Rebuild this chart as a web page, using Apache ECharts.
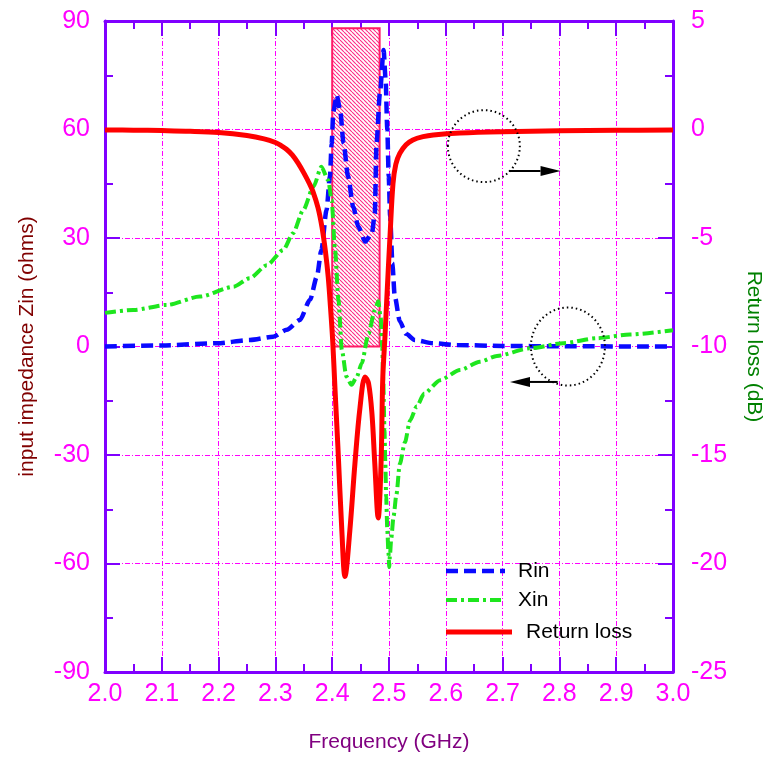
<!DOCTYPE html>
<html><head><meta charset="utf-8">
<script src="https://cdn.jsdelivr.net/npm/echarts@6/dist/echarts.min.js"></script>
<style>html,body{margin:0;padding:0;background:#fff;overflow:hidden}#c{width:769px;height:761px}</style>
</head><body><div id="c"></div>
<script>
// ---- data ----
const xTicks = [2.0, 2.1, 2.2, 2.3, 2.4, 2.5, 2.6, 2.7, 2.8, 2.9, 3.0];
const zinTicks = [-90, -60, -30, 0, 30, 60, 90];
const rlTicks = [-25, -20, -15, -10, -5, 0, 5];

const rinFreq = [2.00, 2.10, 2.197, 2.255, 2.296, 2.32, 2.343, 2.361, 2.373, 2.381, 2.39, 2.396, 2.399, 2.402, 2.408, 2.414, 2.42, 2.428, 2.437, 2.446, 2.458, 2.47, 2.475, 2.478, 2.484, 2.4905, 2.494, 2.497, 2.4995, 2.502, 2.506, 2.51, 2.519, 2.53, 2.545, 2.578, 2.62, 2.70, 2.80, 3.00];
const rinVals = [0, 0.3, 0.9, 1.8, 2.7, 4.6, 7.3, 12.9, 19.3, 26.7, 37.7, 47, 56, 65, 69.5, 65.4, 56.2, 47, 38.6, 33.1, 29, 31.3, 36.8, 56.2, 70, 82, 74, 60, 47, 36, 23, 14, 7, 3.5, 1.8, 0.9, 0.4, 0.15, 0.05, 0];

const xinFreq = [2.00, 2.05, 2.109, 2.167, 2.226, 2.255, 2.285, 2.314, 2.331, 2.349, 2.367, 2.381, 2.393, 2.399, 2.405, 2.411, 2.417, 2.425, 2.434, 2.443, 2.452, 2.464, 2.475, 2.481, 2.4855, 2.488, 2.49, 2.492, 2.4935, 2.495, 2.497, 2.499, 2.5005, 2.5015, 2.504, 2.508, 2.513, 2.519, 2.528, 2.537, 2.549, 2.562, 2.59, 2.625, 2.66, 2.69, 2.748, 2.807, 2.866, 2.924, 3.00];
const xinVals = [9.3, 10.1, 11.5, 13.8, 16.5, 18.9, 22.5, 26.7, 31.3, 37.7, 44.2, 49.7, 46, 40.5, 26.7, 12.9, -1, -8.3, -10.6, -8.5, -4.6, 3.6, 10, 12.5, 8, 0, -10, -23, -32, -41.6, -50.7, -57, -61, -58, -53, -47, -41, -32.5, -26.5, -20.5, -16.5, -13, -9.3, -6.5, -4.2, -2.6, -0.5, 0.9, 2.3, 3.3, 4.5];

const rlFreq = [2.00, 2.05, 2.10, 2.15, 2.20, 2.25, 2.28, 2.30, 2.31, 2.32, 2.33, 2.34, 2.35, 2.36, 2.366, 2.375, 2.382, 2.388, 2.393, 2.397, 2.401, 2.405, 2.41, 2.417, 2.4225, 2.431, 2.44, 2.449, 2.458, 2.464, 2.47, 2.475, 2.481, 2.486, 2.489, 2.493, 2.496, 2.502, 2.507, 2.512, 2.519, 2.53, 2.542, 2.56, 2.578, 2.625, 2.70, 2.80, 2.90, 3.00];
const rlVals = [-0.02, -0.03, -0.05, -0.08, -0.14, -0.28, -0.43, -0.6, -0.74, -0.92, -1.18, -1.55, -2.0, -2.5, -2.85, -3.6, -4.5, -5.6, -6.8, -8.2, -9.8, -12.0, -14.6, -18.5, -20.6, -18.5, -15.4, -12.8, -11.4, -11.7, -13.1, -15.4, -17.9, -15.4, -11.5, -9.5, -7.86, -4.8, -2.5, -1.6, -1.1, -0.7, -0.48, -0.33, -0.25, -0.16, -0.1, -0.06, -0.04, -0.02];

// ISM band box: [fStart, fEnd, zinBottom, zinTop]
const band = [2.4, 2.4835, 0, 88];
const legendNames = ['Rin', 'Xin', 'Return loss'];

// ---- styles ----
const AXIS = '#8000ff', MAG = '#ff00ff';
const tickFont = "'Liberation Sans Narrow', 'Liberation Sans', Arial, sans-serif";
const txtFont = "'Liberation Sans', Arial, sans-serif";
const gridDash = [5, 2, 1, 2];
const STY = [
  { color: '#0a0aff', width: 4.5, type: [12, 6] },
  { color: '#1ee61e', width: 4, type: [11, 4, 3, 4] },
  { color: '#ff0000', width: 5, type: 'solid' }
];

function zip(a, b) { return a.map((v, i) => [v, b[i]]); }

function hatchPattern() {
  const s = 4, c = document.createElement('canvas');
  c.width = c.height = s;
  const g = c.getContext('2d');
  g.fillStyle = '#ffffff'; g.fillRect(0, 0, s, s);
  g.strokeStyle = '#ff2a85'; g.lineWidth = 1.1;
  g.beginPath();
  for (const k of [-s, 0, s]) { g.moveTo(k, 0); g.lineTo(k + s, s); }
  g.stroke();
  return { image: c, repeat: 'repeat' };
}

const chart = echarts.init(document.getElementById('c'), null, { renderer: 'canvas' });

const tickCommon = (len) => ({ show: true, inside: true, length: len, lineStyle: { color: AXIS, width: 2 } });
const minorCommon = { show: true, splitNumber: 2, length: 8, lineStyle: { color: AXIS, width: 2 } };

chart.setOption({
  animation: false,
  backgroundColor: '#fff',
  grid: { left: 105, right: 96, top: 21, bottom: 89, containLabel: false, outerBoundsMode: 'none' },
  xAxis: [{
    type: 'value', position: 'bottom',
    min: xTicks[0], max: xTicks[xTicks.length - 1], interval: +(xTicks[1] - xTicks[0]).toFixed(3),
    name: 'Frequency (GHz)', nameLocation: 'middle', nameGap: 60,
    nameTextStyle: { color: '#800080', fontSize: 21, fontFamily: txtFont },
    axisLine: { show: true, onZero: false, lineStyle: { color: AXIS, width: 3 } },
    axisTick: tickCommon(15), minorTick: minorCommon,
    axisLabel: { color: MAG, fontSize: 25, fontFamily: tickFont, margin: 10,
      formatter: v => v.toFixed(1) },
    splitLine: { show: true, lineStyle: { color: MAG, width: 1, type: gridDash } }
  }, {
    type: 'value', position: 'top',
    min: xTicks[0], max: xTicks[xTicks.length - 1], interval: +(xTicks[1] - xTicks[0]).toFixed(3),
    axisLine: { show: true, onZero: false, lineStyle: { color: AXIS, width: 3 } },
    axisTick: tickCommon(15), minorTick: minorCommon,
    axisLabel: { show: false }, splitLine: { show: false }
  }],
  yAxis: [{
    type: 'value', position: 'left',
    min: zinTicks[0], max: zinTicks[zinTicks.length - 1], interval: zinTicks[1] - zinTicks[0],
    name: 'input impedance Zin (ohms)', nameLocation: 'middle', nameGap: 67, nameRotate: 90,
    nameTextStyle: { color: '#800000', fontSize: 21, fontFamily: txtFont },
    axisLine: { show: true, onZero: false, lineStyle: { color: AXIS, width: 3 } },
    axisTick: tickCommon(15), minorTick: minorCommon,
    axisLabel: { color: MAG, fontSize: 25, fontFamily: tickFont, margin: 15 },
    splitLine: { show: true, lineStyle: { color: MAG, width: 1, type: gridDash } }
  }, {
    type: 'value', position: 'right',
    min: rlTicks[0], max: rlTicks[rlTicks.length - 1], interval: rlTicks[1] - rlTicks[0],
    name: 'Return loss (dB)', nameLocation: 'middle', nameGap: 70, nameRotate: -90,
    nameTextStyle: { color: '#008000', fontSize: 21, fontFamily: txtFont },
    axisLine: { show: true, onZero: false, lineStyle: { color: AXIS, width: 3 } },
    axisTick: tickCommon(15), minorTick: minorCommon,
    axisLabel: { color: MAG, fontSize: 25, fontFamily: tickFont, margin: 18 },
    splitLine: { show: false }
  }],
  series: [{
    name: legendNames[0], type: 'line', xAxisIndex: 0, yAxisIndex: 0,
    data: zip(rinFreq, rinVals), showSymbol: false, symbol: 'none',
    smooth: 0.25, smoothMonotone: 'x',
    lineStyle: STY[0], itemStyle: { color: STY[0].color }, z: 3
  }, {
    name: legendNames[1], type: 'line', xAxisIndex: 0, yAxisIndex: 0,
    data: zip(xinFreq, xinVals), showSymbol: false, symbol: 'none',
    smooth: 0.25, smoothMonotone: 'x',
    lineStyle: STY[1], itemStyle: { color: STY[1].color }, z: 3,
    markArea: {
      silent: true,
      itemStyle: { color: hatchPattern(), borderColor: '#ff1a66', borderWidth: 2 },
      data: [[{ xAxis: band[0], yAxis: band[2] }, { xAxis: band[1], yAxis: band[3] }]]
    }
  }, {
    name: legendNames[2], type: 'line', xAxisIndex: 0, yAxisIndex: 1,
    data: zip(rlFreq, rlVals), showSymbol: false, symbol: 'none',
    smooth: 0.35,
    lineStyle: STY[2], itemStyle: { color: STY[2].color }, z: 4
  }]
});

// ---- annotations (circles + arrows) and legend, placed via the axes ----
const P = (x, y) => chart.convertToPixel({ xAxisIndex: 0, yAxisIndex: 0 }, [x, y]);
function arrow(x1, x2, y, dir) {
  const a = P(x1, y), b = P(x2, y);
  const yy = a[1];
  const tip = dir > 0 ? Math.max(a[0], b[0]) : Math.min(a[0], b[0]);
  const tail = dir > 0 ? Math.min(a[0], b[0]) : Math.max(a[0], b[0]);
  const base = tip - dir * 20;
  return [
    { type: 'line', z: 50, shape: { x1: tail, y1: yy, x2: base, y2: yy }, style: { stroke: '#000', lineWidth: 2 } },
    { type: 'polygon', z: 50, shape: { points: [[tip, yy], [base, yy - 5], [base, yy + 5]] }, style: { fill: '#000' } }
  ];
}
const c1 = P(2.667, 55.4), c2 = P(2.815, 0);

// legend drawn as graphic (line samples with the series' own dash styles)
const lg = [];
const lgRows = [571, 600, 632], lgLineEnd = [505, 505, 512], lgText = [518, 518, 526];
legendNames.forEach((n, i) => {
  lg.push({ type: 'line', z: 60, shape: { x1: 446, y1: lgRows[i], x2: lgLineEnd[i], y2: lgRows[i] },
    style: { stroke: STY[i].color, lineWidth: STY[i].width, lineDash: STY[i].type === 'solid' ? null : STY[i].type } });
  lg.push({ type: 'text', z: 60, x: lgText[i], y: lgRows[i],
    style: { text: n, fill: '#000', font: '21px ' + txtFont, textVerticalAlign: 'middle', verticalAlign: 'middle' } });
});

chart.setOption({
  graphic: [
    { type: 'ellipse', z: 50, shape: { cx: c1[0], cy: c1[1], rx: 36, ry: 36 }, style: { fill: 'none', stroke: '#000', lineWidth: 2, lineDash: [1.5, 3] } },
    { type: 'ellipse', z: 50, shape: { cx: c2[0], cy: c2[1], rx: 37, ry: 39 }, style: { fill: 'none', stroke: '#000', lineWidth: 2, lineDash: [1.5, 3] } },
    ...arrow(2.711, 2.802, 48.5, 1),
    ...arrow(2.713, 2.797, -9.8, -1),
    ...lg
  ]
});
</script>
</body></html>
